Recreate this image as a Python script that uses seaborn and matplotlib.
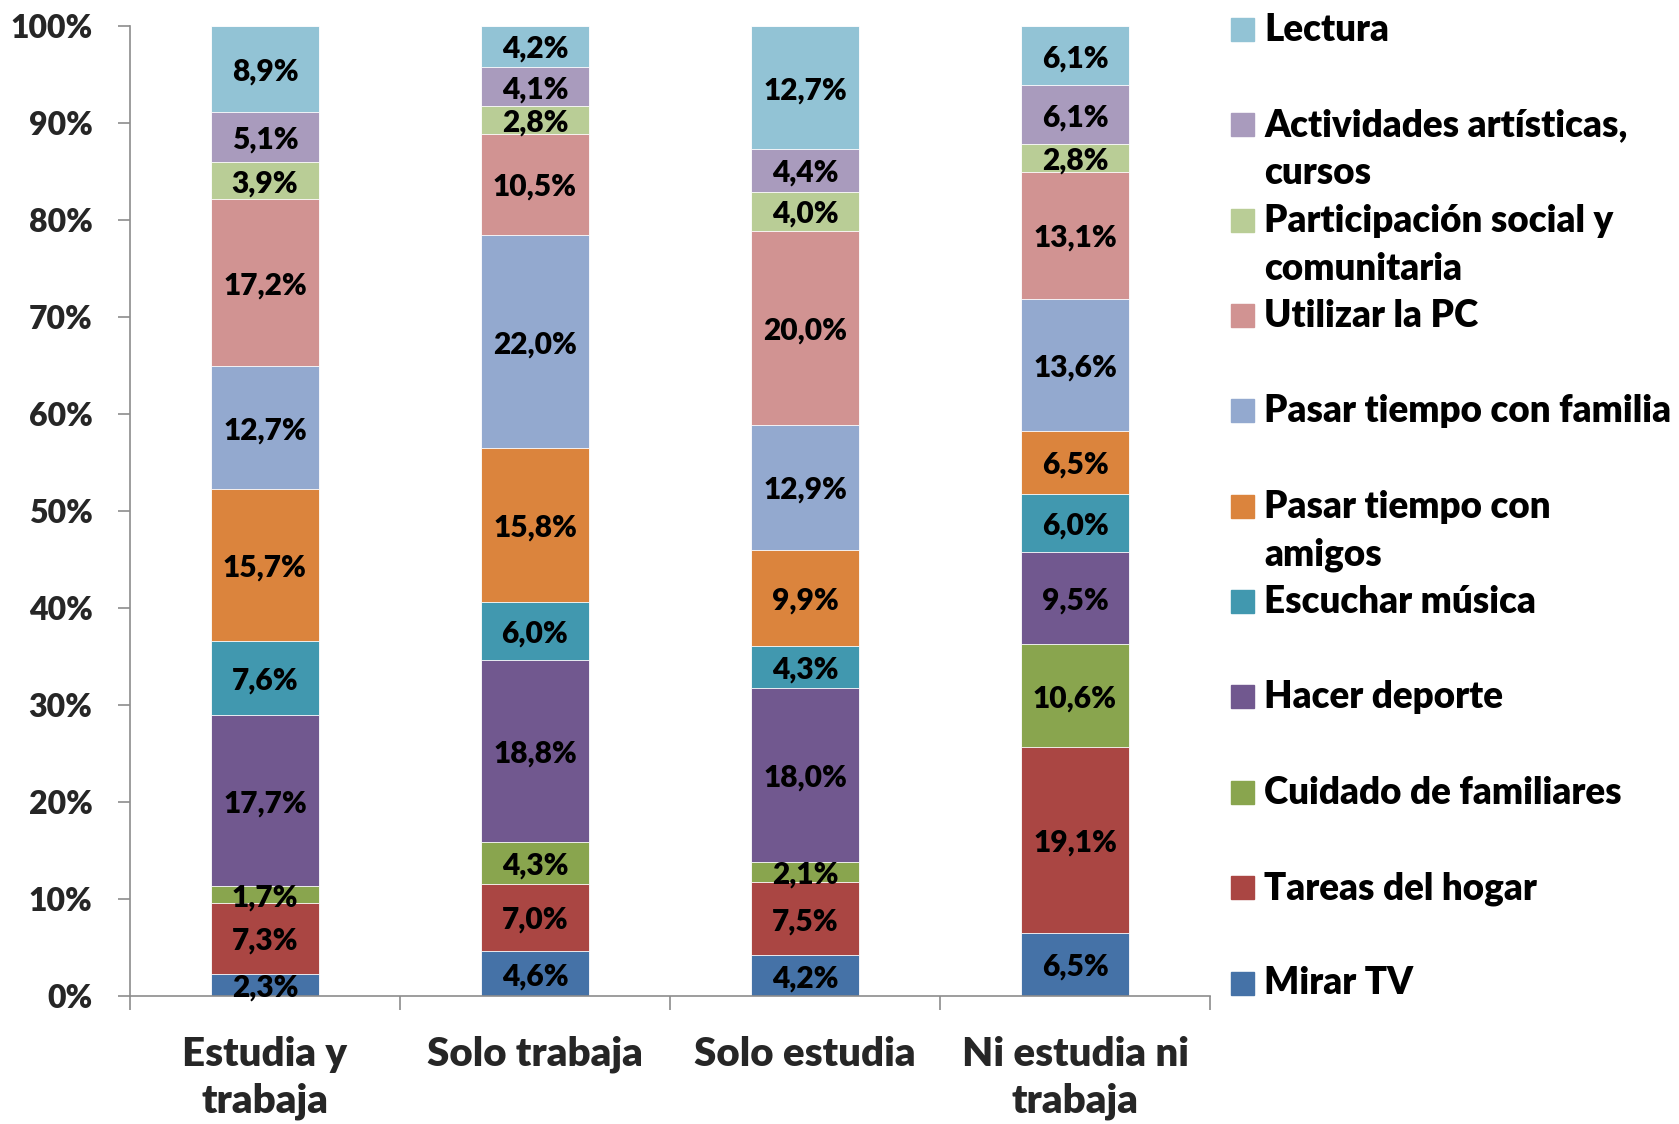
import numpy as np
import pandas as pd
import seaborn as sns
import matplotlib.pyplot as plt
from matplotlib.patches import Rectangle
from matplotlib.ticker import FixedLocator

# Categories (x axis) and activities (bottom to top of each bar)
groups = ["Estudia y\ntrabaja", "Solo trabaja", "Solo estudia", "Ni estudia ni\ntrabaja"]
activities = ["Mirar TV", "Tareas del hogar", "Cuidado de familiares", "Hacer deporte",
              "Escuchar música", "Pasar tiempo con amigos", "Pasar tiempo con familia",
              "Utilizar la PC", "Participación social y comunitaria",
              "Actividades artísticas, cursos", "Lectura"]
legend_labels = ["Mirar TV", "Tareas del hogar", "Cuidado de familiares", "Hacer deporte",
                 "Escuchar música", "Pasar tiempo con\namigos", "Pasar tiempo con familia",
                 "Utilizar la PC", "Participación social y\ncomunitaria",
                 "Actividades artísticas,\ncursos", "Lectura"]

# Percentages per group, in the order of `activities`
estudia_trabaja = [2.3, 7.3, 1.7, 17.7, 7.6, 15.7, 12.7, 17.2, 3.9, 5.1, 8.9]
solo_trabaja = [4.6, 7.0, 4.3, 18.8, 6.0, 15.8, 22.0, 10.5, 2.8, 4.1, 4.2]
solo_estudia = [4.2, 7.5, 2.1, 18.0, 4.3, 9.9, 12.9, 20.0, 4.0, 4.4, 12.7]
ni_ni = [6.5, 19.1, 10.6, 9.5, 6.0, 6.5, 13.6, 13.1, 2.8, 6.1, 6.1]

colors = ["#4572A7", "#AA4643", "#89A54E", "#71588F", "#4198AF", "#DB843D",
          "#93A9CF", "#D19392", "#B9CD96", "#A99BBD", "#92C3D5"]

df = pd.DataFrame([estudia_trabaja, solo_trabaja, solo_estudia, ni_ni],
                  index=groups, columns=activities)
# 100% stacked: normalise each bar
pct = df.div(df.sum(axis=1), axis=0) * 100
cum = pct.cumsum(axis=1)

sns.set_theme(style="white")
plt.rcParams["font.family"] = ["Lato", "DejaVu Sans"]
W8 = "heavy"

fig = plt.figure(figsize=(16.79, 11.24), dpi=100)
ax = fig.add_axes([0.0774, 0.1139, 0.6433, 0.8630])

# draw cumulative totals from the top down so each layer covers the next
for act, col in reversed(list(zip(activities, colors))):
    d = pd.DataFrame({"group": groups, "value": cum[act].values})
    sns.barplot(data=d, x="group", y="value", color=col, width=0.4,
                saturation=1, edgecolor="white", linewidth=0.6, ax=ax)

# segment labels
for i, g in enumerate(groups):
    for act in activities:
        top = cum.loc[g, act]
        mid = top - df.loc[g, act] / 2
        ax.text(i, mid, f"{df.loc[g, act]:.1f}%".replace(".", ","),
                ha="center", va="center_baseline", fontsize=21.5, fontweight=W8,
                color="black")

ax.set_ylim(0, 100)
ax.set_xlim(-0.5, 3.5)
ax.set_yticks(np.arange(0, 101, 10))
ax.set_yticklabels([f"{v}%" for v in range(0, 101, 10)], fontsize=23, fontweight=W8)
ax.set_xticklabels(groups, fontsize=29, fontweight=W8, linespacing=1.32)
ax.set_xlabel("")
ax.set_ylabel("")
ax.tick_params(axis="y", which="major", length=9, width=1.2, color="#8c8c8c",
               pad=18, left=True)
ax.tick_params(axis="x", which="major", length=0, pad=28.5)
ax.xaxis.set_minor_locator(FixedLocator([-0.5, 0.5, 1.5, 2.5, 3.5]))
ax.tick_params(axis="x", which="minor", length=10, width=1.2, color="#8c8c8c", bottom=True)
for s in ["top", "right"]:
    ax.spines[s].set_visible(False)
for s in ["left", "bottom"]:
    ax.spines[s].set_color("#8c8c8c")
    ax.spines[s].set_linewidth(1.2)
for t in ax.get_xticklabels():
    t.set_verticalalignment("top")

# legend, laid out like the original (top entry first, fixed spacing)
W, H = 1679, 1124
step = 95.35
line_gap = 48
for k, (lab, col) in enumerate(zip(reversed(legend_labels), reversed(colors))):
    base = 41 + k * step  # baseline of first line, pixels from top
    fig.patches.append(Rectangle((1231 / W, 1 - base / H), 23 / W, 23 / H,
                                 transform=fig.transFigure, color=col))
    for j, line in enumerate(lab.split("\n")):
        fig.text(1264 / W, 1 - (base + j * line_gap) / H, line, fontsize=26.5,
                 fontweight=W8, ha="left", va="baseline", color="black")

fig.savefig("out.png", dpi=100, facecolor="white")
